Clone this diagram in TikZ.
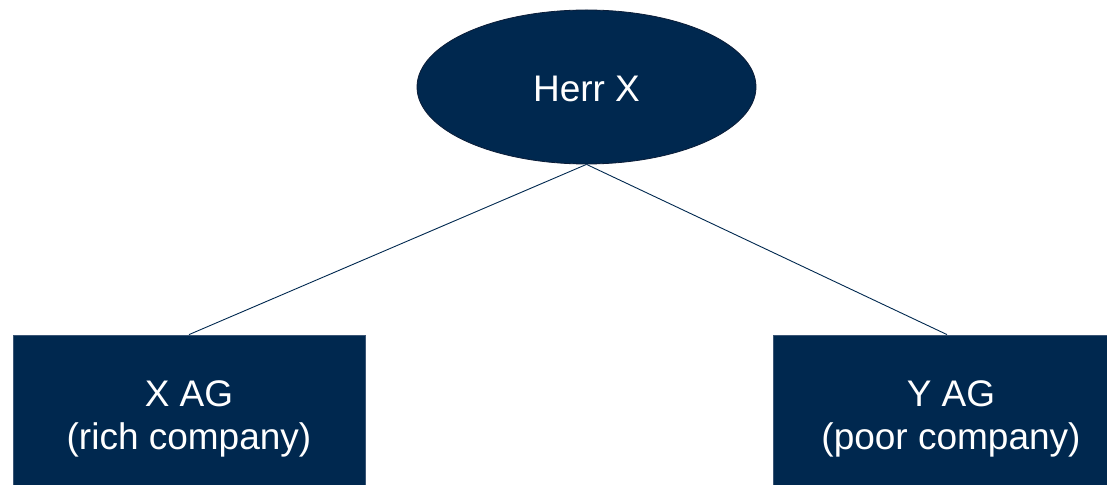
\documentclass[tikz,border=0pt]{standalone}
\usepackage{fontspec}
\setmainfont{Liberation Sans}
\usetikzlibrary{shapes.geometric}
\definecolor{navy}{HTML}{00284F}
\definecolor{navyedge}{HTML}{3A5575}
\definecolor{navydark}{HTML}{0B1D38}
\begin{document}
\begin{tikzpicture}[x=1pt,y=1pt,
  box/.style={rectangle, fill=navy, draw=navyedge, line width=0.8pt, text=white, align=center,
    font=\fontsize{37}{43}\selectfont, inner sep=0pt},
  oval/.style={ellipse, fill=navy, draw=navydark, line width=0.8pt, text=white,
    font=\fontsize{37}{42}\selectfont, inner sep=0pt, text height=29.5pt, text depth=0pt},
  link/.style={draw=navy, line width=0.9pt}]
\useasboundingbox (0,0) rectangle (1107,484);
\node[oval, minimum width=339, minimum height=154] (herr) at (586.5,397) {Herr X};
\node[box, minimum width=352, minimum height=167] (xag) at (189,65.5) {X AG\\(rich company)};
\node[box, minimum width=356, minimum height=167] (yag) at (951,65.5) {Y AG\\(poor company)};
\draw[link] (herr.south) -- (xag.north);
\draw[link] (herr.south) -- ([xshift=-4pt]yag.north);
\end{tikzpicture}
\end{document}
